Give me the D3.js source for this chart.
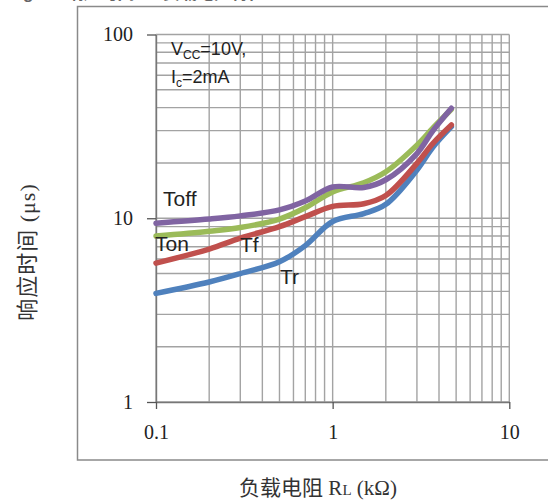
<!DOCTYPE html>
<html>
<head>
<meta charset="utf-8">
<script src="https://cdn.jsdelivr.net/npm/d3@7/dist/d3.min.js"></script>
<style>
  html, body { margin: 0; padding: 0; background: #fff; }
  svg { display: block; }
</style>
</head>
<body>
<svg id="chart" width="548" height="500"></svg>
<script>
// ---- data ----
const resistance = [0.1, 0.2, 0.3, 0.5, 0.7, 1.0, 1.5, 2.0, 3.0, 3.7, 4.7];   // kΩ
const tOff = [9.4, 9.9, 10.3, 11.1, 12.4, 14.8, 14.7, 16.2, 22.5, 30.0, 39.7];
const tOn  = [8.0, 8.5, 8.9, 9.9, 11.4, 13.9, 15.6, 17.9, 25.0, 31.0, 39.2];
const tF   = [5.7, 6.8, 7.8, 9.0, 10.2, 11.6, 12.0, 13.3, 19.9, 25.6, 32.2];
const tR   = [3.9, 4.5, 5.0, 5.8, 7.1, 9.6, 10.6, 11.9, 18.3, 24.4, 31.5];
const seriesNames = ["Tr", "Tf", "Ton", "Toff"];
const seriesValues = [tR, tF, tOn, tOff];
const seriesColors = ["#4f81bd", "#c0504d", "#9bbb59", "#8064a2"];
const xTickLabels = [0.1, 1, 10];
const yTickLabels = [1, 10, 100];
const xTitle = "负载电阻 ";
const yTitle = "响应时间 (μs)";

const svg = d3.select("#chart");

// caption, almost entirely clipped at the very top (as in the source image)
svg.append("text")
  .attr("x", 8).attr("y", -1)
  .attr("font-family", "Liberation Sans, Noto Sans CJK SC")
  .attr("font-size", 17).attr("font-weight", "bold")
  .attr("fill", "#666")
  .text("Fig. 12  响应时间 vs 负载电阻特性");

// outer frame
svg.append("rect")
  .attr("x", 77.5).attr("y", 6.5)
  .attr("width", 500).attr("height", 453.5)
  .attr("fill", "#fff")
  .attr("stroke", "#8a8a8a").attr("stroke-width", 1.5);

const x = d3.scaleLog().domain([0.1, 10]).range([156, 509.3]);
const y = d3.scaleLog().domain([1, 100]).range([402, 34.5]);

// grid
const g = svg.append("g");
const xt = x.ticks();
const yt = y.ticks();
g.selectAll("line.vg").data(xt).join("line")
  .attr("x1", d => x(d)).attr("x2", d => x(d))
  .attr("y1", y(100)).attr("y2", y(1))
  .attr("stroke", "#a3a3a3").attr("stroke-width", 1.4);
g.selectAll("line.hg").data(yt).join("line")
  .attr("x1", x(0.1)).attr("x2", x(10))
  .attr("y1", d => y(d)).attr("y2", d => y(d))
  .attr("stroke", "#a3a3a3").attr("stroke-width", 1.4);

// axes
const yAxis = d3.axisLeft(y).tickValues(yTickLabels).tickFormat(d3.format("d"))
  .tickSize(9).tickSizeOuter(0).tickPadding(14);
const xAxis = d3.axisBottom(x).tickValues(xTickLabels).tickFormat(d => String(d))
  .tickSize(7).tickSizeOuter(0).tickPadding(16);

const ya = svg.append("g").attr("transform", `translate(${x(0.1)},0)`).call(yAxis);
const xa = svg.append("g").attr("transform", `translate(0,${y(1)})`).call(xAxis);
[ya, xa].forEach(a => {
  a.select(".domain").attr("stroke", "#777").attr("stroke-width", 1.4);
  a.selectAll(".tick line").attr("stroke", "#555").attr("stroke-width", 1.3);
  a.selectAll(".tick text")
    .attr("font-family", "Liberation Serif, serif")
    .attr("font-size", 20).attr("fill", "#222");
});

// curves
const line = d3.line()
  .x(d => x(d[0])).y(d => y(d[1]))
  .curve(d3.curveCatmullRom.alpha(0.5));
seriesValues.forEach((vals, i) => {
  const pts = resistance.map((r, j) => [r, vals[j]]);
  svg.append("path")
    .attr("d", line(pts))
    .attr("fill", "none")
    .attr("stroke", seriesColors[i])
    .attr("stroke-width", 5.5)
    .attr("stroke-linecap", "round")
    .attr("stroke-linejoin", "round");
});

// series labels
const labelPos = { "Toff": [163, 206], "Ton": [155, 251], "Tf": [240, 252], "Tr": [280, 284] };
seriesNames.forEach(n => {
  svg.append("text")
    .attr("x", labelPos[n][0]).attr("y", labelPos[n][1])
    .attr("font-family", "Liberation Sans, Arial, sans-serif")
    .attr("font-size", 21).attr("fill", "#222")
    .text(n);
});

// conditions annotation
const ann = svg.append("text")
  .attr("x", 171).attr("y", 55)
  .attr("font-family", "Liberation Sans, Arial, sans-serif")
  .attr("font-size", 18).attr("fill", "#222");
ann.append("tspan").text("V");
ann.append("tspan").attr("font-size", 12).attr("dy", 4).text("CC");
ann.append("tspan").attr("dy", -4).text("=10V,");
const ann2 = svg.append("text")
  .attr("x", 171).attr("y", 83)
  .attr("font-family", "Liberation Sans, Arial, sans-serif")
  .attr("font-size", 18).attr("fill", "#222");
ann2.append("tspan").text("I");
ann2.append("tspan").attr("font-size", 12).attr("dy", 4).text("c");
ann2.append("tspan").attr("dy", -4).text("=2mA");

// axis titles
const xt2 = svg.append("text")
  .attr("x", 318).attr("y", 495)
  .attr("text-anchor", "middle")
  .attr("font-family", "Liberation Serif, Noto Sans CJK SC, serif")
  .attr("font-size", 21).attr("fill", "#333");
xt2.append("tspan").text(xTitle + "R");
xt2.append("tspan").attr("font-size", 15).text("L");
xt2.append("tspan").text(" (kΩ)");

svg.append("text")
  .attr("transform", "translate(35,252) rotate(-90)")
  .attr("text-anchor", "middle")
  .attr("font-family", "Liberation Serif, Noto Sans CJK SC, serif")
  .attr("font-size", 22).attr("letter-spacing", 1).attr("fill", "#333")
  .text(yTitle);
</script>
</body>
</html>
